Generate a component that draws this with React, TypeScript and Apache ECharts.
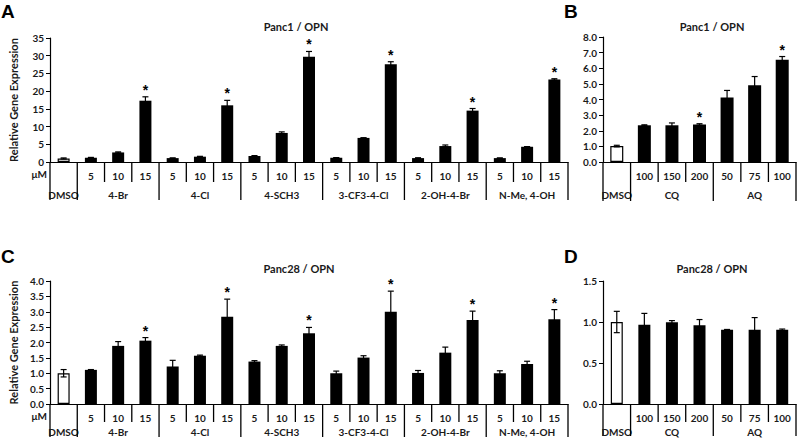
import React, { useEffect, useRef } from 'react';
import * as echarts from 'echarts';

// ---------- data ----------
const compoundDoses = ['', '5', '10', '15', '5', '10', '15', '5', '10', '15', '5', '10', '15', '5', '10', '15', '5', '10', '15'];
const compoundGroups = ['DMSO', '4-Br', '4-Cl', '4-SCH3', '3-CF3-4-Cl', '2-OH-4-Br', 'N-Me, 4-OH'];
const compoundGroupSizes = [1, 3, 3, 3, 3, 3, 3];

const quinoDoses = ['', '100', '150', '200', '50', '75', '100'];
const quinoGroups = ['DMSO', 'CQ', 'AQ'];
const quinoGroupSizes = [1, 3, 3];

const panc1CompoundValues = [1.0, 1.2, 2.7, 17.3, 1.1, 1.5, 16.0, 1.7, 8.2, 29.7, 1.2, 6.8, 27.6, 1.1, 4.5, 14.5, 1.1, 4.3, 23.3];
const panc1CompoundErrors = [0.15, 0.1, 0.15, 1.1, 0.05, 0.1, 1.4, 0.1, 0.3, 1.5, 0.05, 0.05, 0.7, 0.1, 0.3, 0.6, 0.05, 0.05, 0.2];
const panc1CompoundSig = [0, 0, 0, 1, 0, 0, 1, 0, 0, 1, 0, 0, 1, 0, 0, 1, 0, 0, 1];

const panc1QuinoValues = [1.02, 2.35, 2.35, 2.4, 4.13, 4.92, 6.55];
const panc1QuinoErrors = [0.05, 0.03, 0.15, 0.05, 0.45, 0.55, 0.2];
const panc1QuinoSig = [0, 0, 0, 1, 0, 0, 1];

const panc28CompoundValues = [1.0, 1.11, 1.89, 2.06, 1.22, 1.57, 2.84, 1.38, 1.89, 2.3, 1.0, 1.51, 3.0, 1.01, 1.67, 2.73, 1.0, 1.3, 2.76];
const panc28CompoundErrors = [0.12, 0.01, 0.14, 0.1, 0.2, 0.02, 0.57, 0.03, 0.03, 0.19, 0.07, 0.06, 0.67, 0.08, 0.18, 0.29, 0.08, 0.09, 0.31];
const panc28CompoundSig = [0, 0, 0, 1, 0, 0, 1, 0, 0, 1, 0, 0, 1, 0, 0, 1, 0, 0, 1];

const panc28QuinoValues = [1.0, 0.965, 0.997, 0.96, 0.904, 0.904, 0.904];
const panc28QuinoErrors = [0.13, 0.14, 0.02, 0.07, 0.005, 0.15, 0.01];
const panc28QuinoSig = [0, 0, 0, 0, 0, 0, 0];

// ---------- styling ----------
const FONT = 'Lato';
const TXT = '#1a1a1a';

type Panel = {
  grid: { left: number; top: number; width: number; height: number };
  doses: string[];
  groups: string[];
  sizes: number[];
  values: number[];
  errors: number[];
  sig: number[];
  yMax: number;
  yInterval: number;
  decimals: number;
  yName: string;
  barWidth: number;
  shortLen: number;
  longLen: number;
  groupOffset: number;
};

const panels: Panel[] = [
  {
    grid: { left: 50, top: 38, width: 518, height: 124 },
    doses: compoundDoses, groups: compoundGroups, sizes: compoundGroupSizes,
    values: panc1CompoundValues, errors: panc1CompoundErrors, sig: panc1CompoundSig,
    yMax: 35, yInterval: 5, decimals: 0, yName: 'Relative Gene Expression', barWidth: 12,
    shortLen: 20, longLen: 38, groupOffset: 33,
  },
  {
    grid: { left: 603, top: 37, width: 193, height: 125 },
    doses: quinoDoses, groups: quinoGroups, sizes: quinoGroupSizes,
    values: panc1QuinoValues, errors: panc1QuinoErrors, sig: panc1QuinoSig,
    yMax: 8, yInterval: 1, decimals: 1, yName: '', barWidth: 13,
    shortLen: 20, longLen: 39, groupOffset: 33,
  },
  {
    grid: { left: 50, top: 281, width: 518, height: 123 },
    doses: compoundDoses, groups: compoundGroups, sizes: compoundGroupSizes,
    values: panc28CompoundValues, errors: panc28CompoundErrors, sig: panc28CompoundSig,
    yMax: 4, yInterval: 0.5, decimals: 1, yName: 'Relative Gene Expression', barWidth: 12,
    shortLen: 18, longLen: 33, groupOffset: 28,
  },
  {
    grid: { left: 603, top: 281, width: 193, height: 123 },
    doses: quinoDoses, groups: quinoGroups, sizes: quinoGroupSizes,
    values: panc28QuinoValues, errors: panc28QuinoErrors, sig: panc28QuinoSig,
    yMax: 1.5, yInterval: 0.5, decimals: 1, yName: '', barWidth: 12,
    shortLen: 18, longLen: 32, groupOffset: 28,
  },
];

function buildOption() {
  const grid: any[] = [];
  const xAxis: any[] = [];
  const yAxis: any[] = [];
  const series: any[] = [];

  panels.forEach((p, gi) => {
    grid.push({ ...p.grid, containLabel: false });
    xAxis.push({
      type: 'category', gridIndex: gi, data: p.doses,
      axisLine: { show: true, lineStyle: { color: '#000', width: 1.2 } },
      axisTick: { show: false },
      axisLabel: { interval: 0, margin: 9, fontFamily: FONT, fontWeight: 'bold', fontSize: 10, color: TXT },
      splitLine: { show: false },
    });
    yAxis.push({
      type: 'value', gridIndex: gi, min: 0, max: p.yMax, interval: p.yInterval,
      name: p.yName, nameLocation: 'middle', nameGap: 31, nameRotate: 90,
      nameTextStyle: { fontFamily: FONT, fontWeight: 'bold', fontSize: 11, color: TXT },
      axisLine: { show: true, lineStyle: { color: '#000', width: 1.2 } },
      axisTick: { show: true, length: 4, lineStyle: { color: '#000' } },
      axisLabel: {
        margin: 6, fontFamily: FONT, fontWeight: 'bold', fontSize: 10, color: TXT,
        formatter: (v: number) => v.toFixed(p.decimals),
      },
      splitLine: { show: false },
    });

    // bars
    series.push({
      type: 'bar', xAxisIndex: gi, yAxisIndex: gi, barWidth: p.barWidth,
      data: p.values.map((v, i) =>
        i === 0
          ? { value: v, itemStyle: { color: '#fff', borderColor: '#000', borderWidth: 1.2 } }
          : { value: v, itemStyle: { color: '#000' } }
      ),
      silent: true,
    });

    // error bars + stars
    series.push({
      type: 'custom', xAxisIndex: gi, yAxisIndex: gi, clip: false, silent: true, z: 5,
      data: p.values.map((v, i) => [i, v, p.errors[i], p.sig[i]]),
      encode: { x: 0, y: 1 },
      renderItem: (params: any, api: any) => {
        const i = api.value(0);
        const v = api.value(1);
        const e = api.value(2);
        const s = api.value(3);
        const top = api.coord([i, v + e]);
        const bot = api.coord([i, v - e]);
        const cw = 3;
        const st = { stroke: '#000', lineWidth: 1.2 };
        const children: any[] = [
          { type: 'line', shape: { x1: top[0], y1: top[1], x2: bot[0], y2: bot[1] }, style: st },
          { type: 'line', shape: { x1: top[0] - cw, y1: top[1], x2: top[0] + cw, y2: top[1] }, style: st },
          { type: 'line', shape: { x1: bot[0] - cw, y1: bot[1], x2: bot[0] + cw, y2: bot[1] }, style: st },
        ];
        if (s) {
          children.push({
            type: 'text', x: top[0], y: top[1],
            style: { text: '*', fill: '#000', fontSize: 14, fontWeight: 'bold', fontFamily: 'Liberation Sans', align: 'center', verticalAlign: 'bottom' },
          });
        }
        return { type: 'group', children };
      },
    });

    // category table (separators + group labels)
    const starts: number[] = [];
    let acc = 0;
    p.sizes.forEach((n) => { starts.push(acc); acc += n; });
    const total = p.doses.length;
    series.push({
      type: 'custom', xAxisIndex: gi, yAxisIndex: gi, clip: false, silent: true, z: 6,
      data: p.doses.map((_, i) => [i, 0]),
      encode: { x: 0, y: 1 },
      renderItem: (params: any, api: any) => {
        const i = api.value(0);
        const c = api.coord([i, 0]);
        const bw = api.size([1, 0])[0];
        const left = c[0] - bw / 2;
        const y0 = c[1];
        const gIdx = starts.indexOf(i);
        const isStart = gIdx >= 0;
        const st = { stroke: '#000', lineWidth: 1.3 };
        const children: any[] = [
          { type: 'line', shape: { x1: left, y1: y0, x2: left, y2: y0 + (isStart ? p.longLen : p.shortLen) }, style: st },
        ];
        if (i === total - 1) {
          const right = c[0] + bw / 2;
          children.push({ type: 'line', shape: { x1: right, y1: y0, x2: right, y2: y0 + p.longLen }, style: st });
        }
        if (isStart) {
          const endIdx = i + p.sizes[gIdx] - 1;
          const ce = api.coord([endIdx, 0]);
          children.push({
            type: 'text', x: (c[0] + ce[0]) / 2, y: y0 + p.groupOffset,
            style: { text: p.groups[gIdx], fill: TXT, fontSize: 10, fontWeight: 'bold', fontFamily: FONT, align: 'center', verticalAlign: 'middle' },
          });
        }
        return { type: 'group', children };
      },
    });
  });

  const letter = (t: string, x: number, y: number) => ({
    type: 'text', left: x, top: y,
    style: { text: t, fill: '#000', fontSize: 19, fontWeight: 'bold', fontFamily: 'Liberation Sans' },
  });
  const title = (t: string, x: number, y: number) => ({
    type: 'text', x, y,
    style: { text: t, fill: TXT, fontSize: 11, fontWeight: 'bold', fontFamily: FONT, align: 'center', verticalAlign: 'middle' },
  });
  const um = (x: number, y: number) => ({
    type: 'text', x, y,
    style: { text: 'μM', fill: TXT, fontSize: 10, fontWeight: 'bold', fontFamily: FONT, align: 'right', verticalAlign: 'middle' },
  });

  return {
    animation: false,
    backgroundColor: '#fff',
    grid, xAxis, yAxis, series,
    graphic: [
      letter('A', 1, 2), letter('B', 564, 2), letter('C', 1, 247), letter('D', 564, 247),
      title('Panc1 / OPN', 296, 26), title('Panc1 / OPN', 712, 26),
      title('Panc28 / OPN', 299, 268), title('Panc28 / OPN', 712, 268),
      um(47, 174), um(47, 416),
    ],
  };
}

export default function App() {
  const ref = useRef<HTMLDivElement>(null);
  useEffect(() => {
    if (!ref.current) return;
    const chart = echarts.init(ref.current, undefined, { renderer: 'svg' });
    chart.setOption(buildOption() as any);
    return () => chart.dispose();
  }, []);
  return <div ref={ref} style={{ position: 'fixed', left: 0, top: 0, width: 800, height: 447, background: '#fff' }} />;
}
